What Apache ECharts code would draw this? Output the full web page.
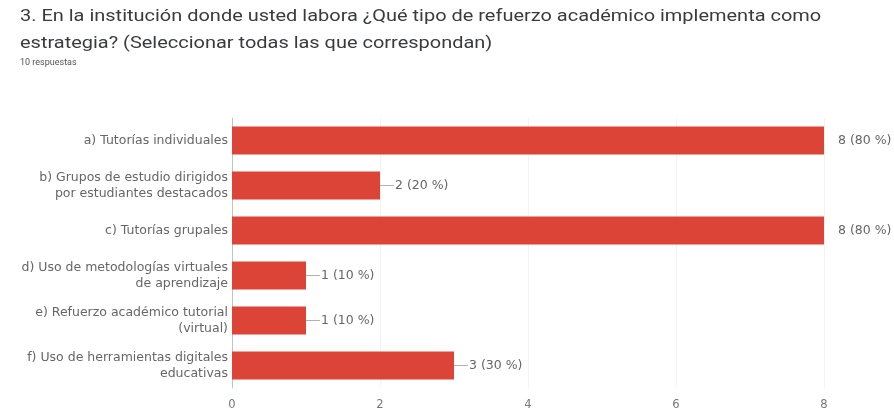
<!DOCTYPE html>
<html>
<head>
<meta charset="utf-8">
<script src="https://cdn.jsdelivr.net/npm/echarts@6/dist/echarts.min.js"></script>
<style>
  html, body { margin: 0; padding: 0; background: #fff; }
  #chart { width: 894px; height: 418px; }
</style>
</head>
<body>
<div id="chart"></div>
<script>
// Survey responses (multiple choice, 10 respondents)
const titleLines = [
  '3. En la institución donde usted labora ¿Qué tipo de refuerzo académico implementa como',
  'estrategia? (Seleccionar todas las que correspondan)'
];
const responsesNote = '10 respuestas';
const totalResponses = 10;
const categories = [
  'a) Tutorías individuales',
  'b) Grupos de estudio dirigidos\npor estudiantes destacados',
  'c) Tutorías grupales',
  'd) Uso de metodologías virtuales\nde aprendizaje',
  'e) Refuerzo académico tutorial\n(virtual)',
  'f) Uso de herramientas digitales\neducativas'
];
const counts = [8, 2, 8, 1, 1, 3];
const xTicks = [0, 2, 4, 6, 8];

const chart = echarts.init(document.getElementById('chart'));

const titleFont = 'Roboto, "Noto Sans", sans-serif';
const labelFont = '"DejaVu Sans", "Noto Sans", sans-serif';

const barData = counts.map(function (v) {
  const pct = Math.round(v / totalResponses * 100);
  const text = v + ' (' + pct + ' %)';
  const full = v >= xTicks[xTicks.length - 1];
  return {
    value: v,
    label: {
      show: true,
      position: 'right',
      distance: full ? 13 : 0,
      formatter: full ? '{t|' + text + '}' : '{l|}{t|' + text + '}'
    }
  };
});

chart.setOption({
  animation: false,
  backgroundColor: '#ffffff',
  graphic: [
    { type: 'text', x: 20, y: 8, scaleX: 1.21, style: { text: titleLines[0], font: '16.5px ' + titleFont, fill: '#3a3b3e' } },
    { type: 'text', x: 20, y: 35, scaleX: 1.21, style: { text: titleLines[1], font: '16.5px ' + titleFont, fill: '#3a3b3e' } },
    { type: 'text', x: 20, y: 58, style: { text: responsesNote, font: '9px ' + titleFont, fill: '#555' } }
  ],
  grid: { left: 232, right: 70, top: 118, bottom: 30, containLabel: false },
  xAxis: {
    type: 'value',
    min: 0,
    max: 8,
    interval: 2,
    axisLine: { show: false },
    axisTick: { show: false },
    splitLine: { show: true, lineStyle: { color: '#f3f3f3', width: 1 } },
    axisLabel: { color: '#777', fontSize: 11.5, fontFamily: labelFont, margin: 11 }
  },
  yAxis: {
    type: 'category',
    inverse: true,
    data: categories,
    axisLine: { show: true, lineStyle: { color: '#b8c8c8', width: 1 } },
    axisTick: { show: false },
    axisLabel: { color: '#666', fontSize: 12.5, fontFamily: labelFont, lineHeight: 16, margin: 4, align: 'right' }
  },
  series: [{
    type: 'bar',
    data: barData,
    barCategoryGap: '38%',
    itemStyle: { color: '#db4437' },
    label: {
      rich: {
        l: { width: 14, height: 0, borderColor: '#999', borderWidth: 0.5, padding: [0, 0, 0, 0] },
        t: { color: '#666', fontSize: 12.5, fontFamily: labelFont, padding: [0, 0, 0, 1] }
      }
    }
  }]
});
</script>
</body>
</html>
